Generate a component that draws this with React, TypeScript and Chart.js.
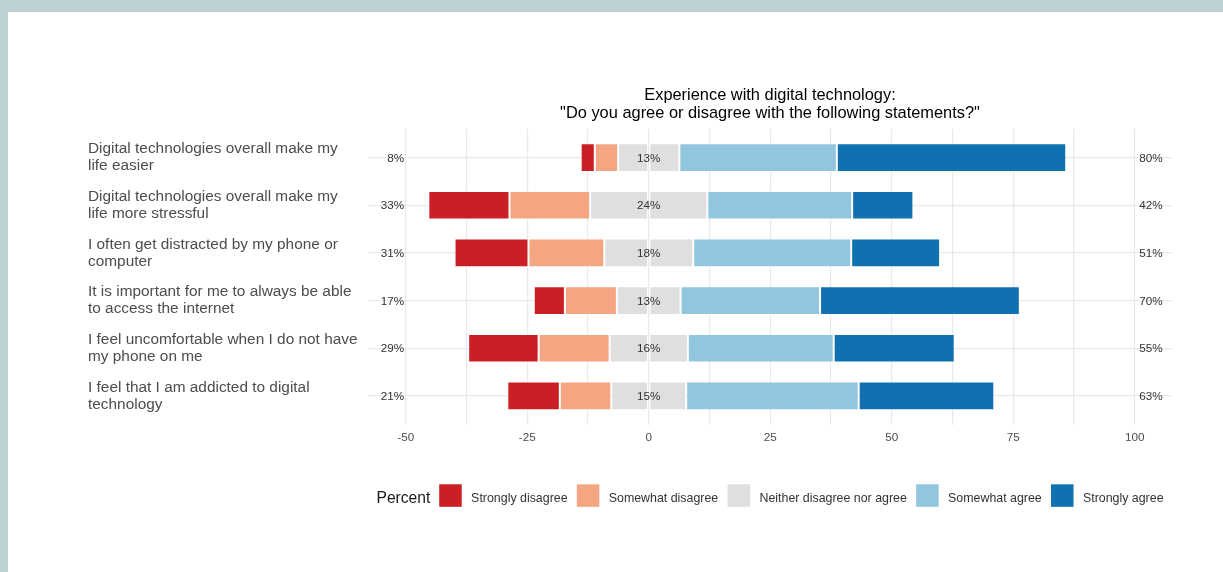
import React, { useEffect, useRef } from 'react';
import { Chart, registerables } from 'chart.js';

Chart.register(...registerables);

// ---------- data ----------
const categories: string[][] = [
  ['Digital technologies overall make my', 'life easier'],
  ['Digital technologies overall make my', 'life more stressful'],
  ['I often get distracted by my phone or', 'computer'],
  ['It is important for me to always be able', 'to access the internet'],
  ['I feel uncomfortable when I do not have', 'my phone on me'],
  ['I feel that I am addicted to digital', 'technology'],
];
const stronglyDisagree = [2.9, 16.7, 15.2, 6.4, 14.5, 10.8];
const somewhatDisagree = [4.8, 16.6, 15.6, 10.7, 14.6, 10.6];
const neitherAgree = [12.6, 24.1, 18.3, 13.1, 16.1, 15.4];
const somewhatAgree = [32.4, 29.8, 32.5, 28.7, 30.0, 35.5];
const stronglyAgree = [47.2, 12.6, 18.3, 41.1, 24.9, 27.9];

const responseLevels = [
  'Strongly disagree',
  'Somewhat disagree',
  'Neither disagree nor agree',
  'Somewhat agree',
  'Strongly agree',
];
const levelColors = ['#ca1f24', '#f4a582', '#dfdfdf', '#92c5de', '#1071b0'];
const xTickLabels = [-50, -25, 0, 25, 50, 75, 100];
const titleLines = [
  'Experience with digital technology:',
  '"Do you agree or disagree with the following statements?"',
];
const legendTitle = 'Percent';

const FONT = '"Liberation Sans", Arial, Helvetica, sans-serif';

function makeSet(label: string, values: number[], sign: number, color: string) {
  return {
    label,
    data: values.map((v, i) => ({ x: sign * v, y: i + 1 })),
    backgroundColor: color,
    borderColor: 'rgba(255,255,255,0.45)',
    borderWidth: 1,
    borderSkipped: false as const,
    barPercentage: 0.6,
    categoryPercentage: 1,
  };
}

const overlayPlugin = {
  id: 'likertOverlay',
  afterDatasetsDraw(chart: any) {
    const ctx = chart.ctx;
    const xs = chart.scales.x;
    const ys = chart.scales.y;
    ctx.save();
    ctx.fillStyle = '#333333';
    ctx.font = `11.7px ${FONT}`;
    ctx.textBaseline = 'middle';
    categories.forEach((_, i) => {
      const y = ys.getPixelForValue(i + 1) + 1;
      const low = Math.round(stronglyDisagree[i] + somewhatDisagree[i]);
      const mid = Math.round(neitherAgree[i]);
      const high = Math.round(somewhatAgree[i] + stronglyAgree[i]);
      ctx.textAlign = 'right';
      ctx.fillText(`${low}%`, xs.getPixelForValue(-50.3), y);
      ctx.textAlign = 'center';
      ctx.fillText(`${mid}%`, xs.getPixelForValue(0), y);
      ctx.textAlign = 'left';
      ctx.fillText(`${high}%`, xs.getPixelForValue(100.9), y);
    });
    ctx.restore();
  },
  afterDraw(chart: any) {
    const ctx = chart.ctx;
    const area = chart.chartArea;
    const cx = (area.left + area.right) / 2;
    ctx.save();
    // title
    ctx.fillStyle = '#000000';
    ctx.font = `16.4px ${FONT}`;
    ctx.textAlign = 'center';
    ctx.textBaseline = 'alphabetic';
    ctx.fillText(titleLines[0], cx, 88);
    ctx.fillText(titleLines[1], cx, 106.3);

    // legend
    const titleFont = `15.6px ${FONT}`;
    const itemFont = `12.4px ${FONT}`;
    const box = 22.5;
    const gapTitle = 9;
    const gapBoxText = 9.4;
    const gapItem = 9.3;
    ctx.font = titleFont;
    const titleW = ctx.measureText(legendTitle).width;
    ctx.font = itemFont;
    const widths = responseLevels.map((t) => ctx.measureText(t).width);
    let total = titleW + gapTitle;
    widths.forEach((w, i) => {
      total += box + gapBoxText + w + (i < widths.length - 1 ? gapItem : 0);
    });
    let x = cx - total / 2;
    const boxTop = 472.3;
    ctx.textAlign = 'left';
    ctx.font = titleFont;
    ctx.fillStyle = '#1a1a1a';
    ctx.fillText(legendTitle, x, 491.3);
    x += titleW + gapTitle;
    ctx.font = itemFont;
    responseLevels.forEach((t, i) => {
      ctx.fillStyle = levelColors[i];
      ctx.fillRect(x, boxTop, box, box);
      x += box + gapBoxText;
      ctx.fillStyle = '#333333';
      ctx.fillText(t, x, 490.3);
      x += widths[i] + gapItem;
    });
    ctx.restore();
  },
};

export default function App() {
  const canvasRef = useRef<HTMLCanvasElement | null>(null);

  useEffect(() => {
    document.body.style.margin = '0';
    const canvas = canvasRef.current;
    if (!canvas) return;
    const chart = new Chart(canvas, {
      type: 'bar',
      data: {
        datasets: [
          makeSet('Neither (left half)', neitherAgree.map((v) => v / 2), -1, levelColors[2]),
          makeSet('Neither (right half)', neitherAgree.map((v) => v / 2), 1, levelColors[2]),
          makeSet(responseLevels[1], somewhatDisagree, -1, levelColors[1]),
          makeSet(responseLevels[3], somewhatAgree, 1, levelColors[3]),
          makeSet(responseLevels[0], stronglyDisagree, -1, levelColors[0]),
          makeSet(responseLevels[4], stronglyAgree, 1, levelColors[4]),
        ],
      },
      options: {
        indexAxis: 'y',
        responsive: false,
        animation: false,
        devicePixelRatio: 1,
        layout: { padding: { left: 80, top: 117, right: 51.3, bottom: 117.5 } },
        plugins: {
          legend: { display: false },
          title: { display: false },
          tooltip: { enabled: false },
        },
        scales: {
          x: {
            type: 'linear',
            stacked: true,
            min: -57.7,
            max: 107.6,
            offset: false,
            border: { display: false },
            grid: { color: '#e9e9e9', lineWidth: 1.2, drawTicks: false, offset: false },
            ticks: {
              stepSize: 12.5,
              includeBounds: false,
              autoSkip: false,
              maxRotation: 0,
              padding: 6,
              color: '#4d4d4d',
              font: { family: FONT, size: 11.7 },
              callback: (v: any) => (xTickLabels.includes(Number(v)) ? String(v) : ''),
            },
            afterFit: (s: any) => {
              s.height = 30;
            },
          },
          y: {
            type: 'linear',
            stacked: true,
            reverse: true,
            min: 0.4,
            max: 6.6,
            offset: false,
            border: { display: false },
            grid: { color: '#e9e9e9', lineWidth: 1.2, drawTicks: false, offset: false },
            ticks: {
              stepSize: 1,
              includeBounds: false,
              autoSkip: false,
              crossAlign: 'far',
              color: '#4d4d4d',
              font: { family: FONT, size: 15.4, lineHeight: 1.085 },
              callback: (v: any) => categories[Number(v) - 1] ?? '',
            },
            afterFit: (s: any) => {
              s.width = 280.3;
            },
          },
        },
      } as any,
      plugins: [overlayPlugin],
    });
    return () => chart.destroy();
  }, []);

  return (
    <div style={{ position: 'fixed', inset: 0, background: '#bdd0d3' }}>
      <div
        style={{
          position: 'absolute',
          left: 8,
          top: 12,
          width: 1215,
          height: 560,
          background: '#ffffff',
        }}
      >
        <canvas ref={canvasRef} width={1215} height={560} style={{ display: 'block' }} />
      </div>
    </div>
  );
}
